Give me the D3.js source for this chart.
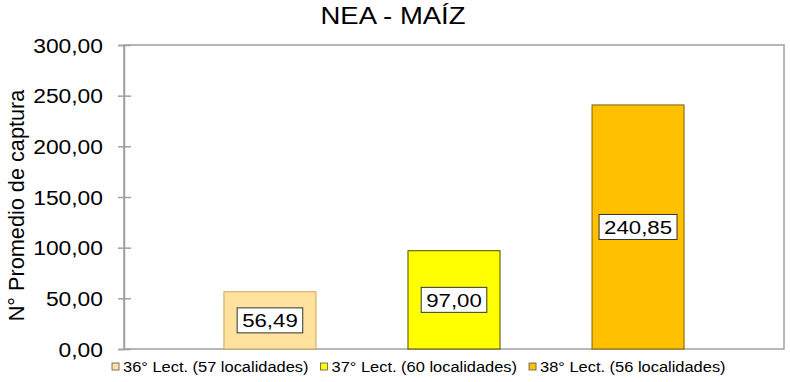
<!DOCTYPE html>
<html>
<head>
<meta charset="utf-8">
<script src="https://cdn.jsdelivr.net/npm/d3@7/dist/d3.min.js"></script>
<style>
  html, body { margin: 0; padding: 0; background: #ffffff; }
  svg { display: block; font-family: "Liberation Sans", Arial, sans-serif; }
</style>
</head>
<body>
<svg id="chart" width="790" height="382"></svg>
<script>
// ---- data ----
const title = "NEA - MAÍZ";
const yTitle = "N° Promedio de captura";
const categories = ["36° Lect. (57 localidades)", "37° Lect. (60 localidades)", "38° Lect. (56 localidades)"];
const values = [56.49, 97.00, 240.85];
const yTicks = [0, 50, 100, 150, 200, 250, 300];

// ---- styles ----
const fills = ["#FFE29E", "#FFFF00", "#FFC000"];
const strokes = ["#C9A65A", "#4D4D00", "#7F6000"];
const SX = 1.17; // horizontal text stretch of the original
const SXL = 1.15;

const locale = d3.formatLocale({decimal: ",", thousands: ".", grouping: [3], currency: ["", ""]});
const fmt = locale.format(".2f");

const svg = d3.select("#chart");
const plot = {left: 124, right: 784, top: 45, bottom: 349};

const y = d3.scaleLinear().domain([0, 300]).range([plot.bottom, plot.top]);
const x = d3.scaleBand().domain(categories).range([plot.left, plot.right])
  .paddingInner(0.5).paddingOuter(0.543);

// plot frame
svg.append("rect")
  .attr("x", plot.left).attr("y", plot.top)
  .attr("width", plot.right - plot.left).attr("height", plot.bottom - plot.top)
  .attr("fill", "none").attr("stroke", "#a0a0a0").attr("stroke-width", 1.5);

// y axis
const yAxis = svg.append("g")
  .attr("transform", `translate(${plot.left},0)`)
  .call(d3.axisLeft(y).tickValues(yTicks).tickFormat(fmt).tickSizeOuter(0).tickSize(6));
yAxis.select(".domain").attr("stroke", "#a0a0a0").attr("stroke-width", 1.5);
yAxis.selectAll(".tick line").attr("x1", 7).attr("x2", -6).attr("stroke", "#a0a0a0").attr("stroke-width", 1.5);
yAxis.selectAll(".tick text")
  .attr("x", 0).attr("dy", null)
  .attr("transform", `translate(-21,7) scale(${SX},1)`)
  .attr("text-anchor", "end")
  .attr("fill", "#000").attr("font-size", "19.5px")
  .attr("font-family", "Liberation Sans, Arial, sans-serif");

// bars
const data = categories.map((c, i) => ({c, v: values[i], i}));
svg.append("g").selectAll("rect").data(data).join("rect")
  .attr("x", d => x(d.c)).attr("y", d => y(d.v))
  .attr("width", x.bandwidth()).attr("height", d => y(0) - y(d.v))
  .attr("fill", d => fills[d.i]).attr("stroke", d => strokes[d.i]).attr("stroke-width", 1);

// data labels
const lab = svg.append("g").selectAll("g").data(data).join("g")
  .attr("transform", d => `translate(${x(d.c) + x.bandwidth() / 2},${(y(d.v) + y(0)) / 2})`);
const boxes = lab.append("rect").attr("fill", "#fff").attr("stroke", "#333").attr("stroke-width", 1);
const lt = lab.append("text")
  .attr("text-anchor", "middle").attr("font-size", "19px")
  .attr("transform", `translate(0,7) scale(${SX},1)`)
  .text(d => fmt(d.v));
lt.each(function(d, i) {
  const w = this.getComputedTextLength() * SX + 10;
  d3.select(boxes.nodes()[i])
    .attr("x", -w / 2).attr("y", -12.5).attr("width", w).attr("height", 25);
});

// title
svg.append("text")
  .attr("transform", `translate(393,23.5) scale(${SX},1)`)
  .attr("text-anchor", "middle").attr("font-size", "23.5px").attr("fill", "#000")
  .text(title);

// y title
svg.append("text")
  .attr("transform", `translate(24,205.5) rotate(-90)`)
  .attr("text-anchor", "middle").attr("font-size", "21.7px").attr("fill", "#000")
  .text(yTitle);

// legend
const leg = svg.append("g");
let lx = 112;
data.forEach(d => {
  leg.append("rect").attr("x", lx).attr("y", 363).attr("width", 7).attr("height", 7)
    .attr("fill", fills[d.i]).attr("stroke", "#555").attr("stroke-width", 0.8);
  const t = leg.append("text")
    .attr("transform", `translate(${lx + 11},371.5) scale(${SXL},1)`)
    .attr("font-size", "14.3px").attr("fill", "#000")
    .text(d.c);
  const w = t.node().getComputedTextLength() * SXL;
  lx += 11 + w + 12;
});
</script>
</body>
</html>
